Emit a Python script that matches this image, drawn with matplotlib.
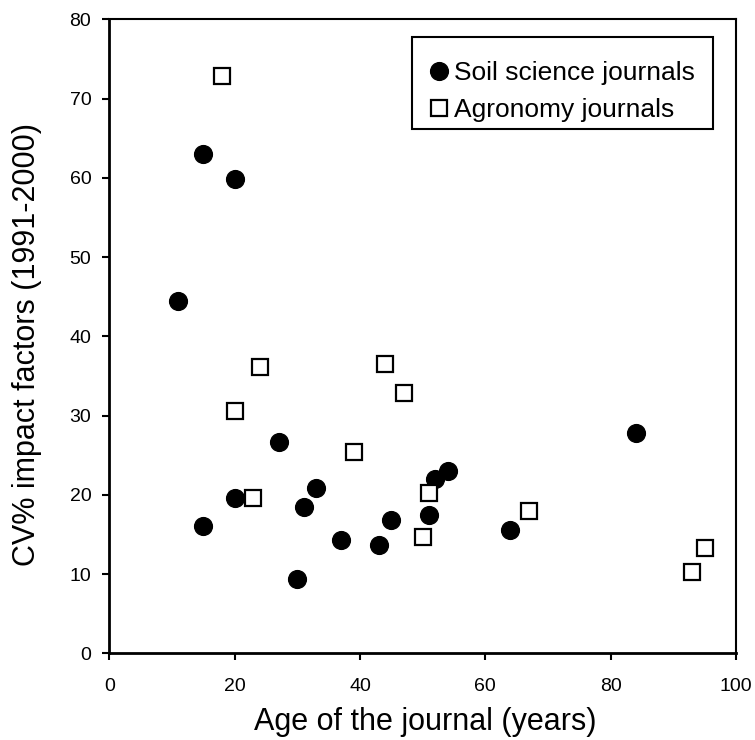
import numpy as np
import matplotlib
matplotlib.use('Agg')
import matplotlib.pyplot as plt
from matplotlib.patches import Rectangle

plt.rcParams['font.family'] = ['Liberation Sans', 'DejaVu Sans']

# Soil science journals (filled circles)
soil_age = [11, 15, 20, 15, 20, 27, 30, 31, 33, 37, 43, 45, 51, 52, 54, 64, 84]
soil_cv = [44.5, 63.0, 59.9, 16.0, 19.6, 26.7, 9.4, 18.4, 20.9, 14.3, 13.7,
           16.8, 17.4, 22.0, 23.0, 15.5, 27.8]

# Agronomy journals (open squares)
agro_age = [18, 20, 23, 24, 39, 44, 47, 50, 51, 67, 93, 95]
agro_cv = [72.8, 30.6, 19.6, 36.1, 25.4, 36.5, 32.8, 14.7, 20.2, 18.0, 10.2, 13.3]

fig = plt.figure(figsize=(7.55, 7.40), dpi=100)
ax = fig.add_axes([0.1448, 0.1172, 0.830, 0.8567])

ax.plot(soil_age, soil_cv, 'o', color='black', markersize=12.8,
        linestyle='none', label='Soil science journals', clip_on=False)
ax.plot(agro_age, agro_cv, 's', markerfacecolor='white', markeredgecolor='black',
        markeredgewidth=1.6, markersize=11, linestyle='none',
        label='Agronomy journals', clip_on=False)

ax.set_xlim(0, 100)
ax.set_ylim(0, 80)
ax.set_xticks(np.arange(0, 101, 20))
ax.set_yticks(np.arange(0, 81, 10))
ax.tick_params(direction='out', length=5, width=1.5, labelsize=14)
ax.tick_params(axis='x', pad=12.5)
ax.tick_params(axis='y', pad=8)
for side in ['left', 'bottom']:
    ax.spines[side].set_linewidth(2)
for side in ['top', 'right']:
    ax.spines[side].set_linewidth(1.5)

ax.set_xlabel('Age of the journal (years)', fontsize=22)
ax.xaxis.set_label_coords(0.5045, -0.0855)
ax.set_ylabel('CV% impact factors (1991-2000)', fontsize=22)
ax.yaxis.set_label_coords(-0.1074, 0.4867)

# legend: text rows without frame, box drawn separately
leg = ax.legend(loc='upper right', bbox_to_anchor=(0.9346, 0.9339), fontsize=19,
                frameon=False, handletextpad=0.22, handlelength=0.72,
                borderpad=0, labelspacing=0.5, markerscale=1.0, borderaxespad=0)
ax.add_patch(Rectangle((0.4825, 0.8265), 0.9638 - 0.4825, 0.9716 - 0.8265,
                       transform=ax.transAxes, fill=False, edgecolor='black',
                       linewidth=1.5, zorder=5))

fig.savefig('out.png', dpi=100)
